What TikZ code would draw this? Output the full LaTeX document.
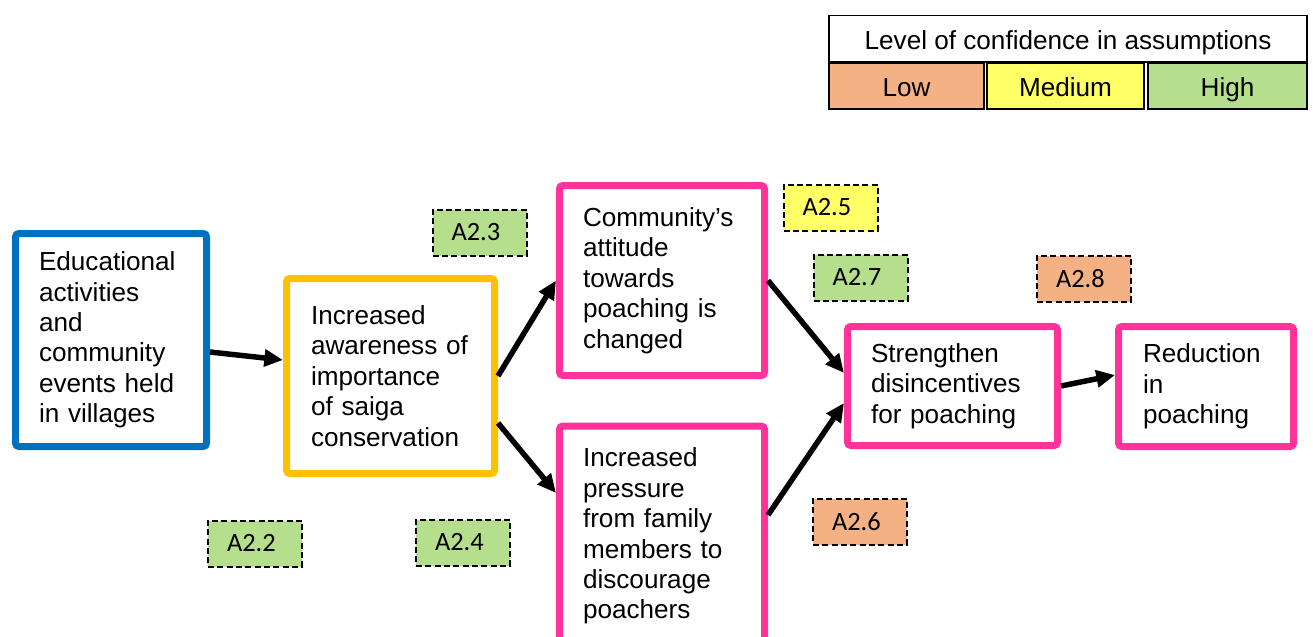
\documentclass[tikz,border=0pt]{standalone}
\usepackage{fontspec}
\setmainfont{Liberation Sans}
\newfontfamily\labelfont{Carlito}
\usetikzlibrary{arrows.meta}

\definecolor{cblue}{HTML}{0070C0}
\definecolor{corange}{HTML}{FFC000}
\definecolor{cpink}{HTML}{FF3399}
\definecolor{clow}{HTML}{F4B183}
\definecolor{cmed}{HTML}{FFFF66}
\definecolor{chigh}{HTML}{B5DE8D}

\tikzset{
  box/.style={draw, line width=5.25pt, rounded corners=2.5pt, fill=white,
    inner sep=0pt, align=left,
    font=\fontsize{19.6pt}{22.8pt}\selectfont},
  tag/.style={draw, line width=1.5pt, dash pattern=on 4.5pt off 2.5pt,
    minimum width=70.5pt, minimum height=34.5pt, inner xsep=14.25pt, inner ysep=0pt,
    text width=42pt, align=left, font=\labelfont\fontsize{19.8pt}{22pt}\selectfont},
  legcell/.style={draw, line width=1.2pt, minimum height=34.8pt, inner sep=0pt,
    text height=15.8pt, text depth=0pt,
    font=\fontsize{19.6pt}{22pt}\selectfont},
  link/.style={line width=4.1pt, -{Triangle[length=14pt,width=12.5pt]}}
}

\begin{document}
\begin{tikzpicture}[x=0.75pt,y=-0.75pt]
\useasboundingbox (0,0) rectangle (1313,636);

% legend
\node[legcell, minimum width=358.8pt] (legtitle) at (1068,38.5) {Level of confidence in assumptions};
\node[legcell, fill=clow, minimum width=116.6pt] (leglow) at (906.5,86) {Low};
\node[legcell, fill=cmed, minimum width=118.1pt] (legmed) at (1065.5,86) {Medium};
\node[legcell, fill=chigh, minimum width=119.6pt] (leghigh) at (1227.5,86) {High};

% boxes of the result chain
\node[box, draw=cblue, minimum width=143.25pt, minimum height=159.75pt, text width=108pt] (edu) at (111,340)
  {Educational\\activities\\and\\community\\events held\\in villages};
\node[box, draw=corange, minimum width=156pt, minimum height=146.25pt, text width=119.25pt] (aware) at (390.5,376)
  {Increased\\awareness of\\importance\\of saiga\\conservation};
\node[box, draw=cpink, minimum width=153.75pt, minimum height=142.5pt, text width=118.5pt] (attitude) at (662,280.5)
  {Community’s\\attitude\\towards\\poaching is\\changed};
\node[box, draw=cpink, minimum width=153.75pt, inner ysep=16.5pt, text width=118.5pt, anchor=north] (pressure) at (662,422.5)
  {Increased\\pressure\\from family\\members to\\discourage\\poachers};
\node[box, draw=cpink, minimum width=157.5pt, minimum height=89.25pt, text width=122.25pt] (strength) at (952.5,386)
  {Strengthen\\disincentives\\for poaching};
\node[box, draw=cpink, minimum width=131.25pt, minimum height=90pt, text width=94.5pt] (reduce) at (1206,386.5)
  {Reduction\\in\\poaching};

% assumption tags
\node[tag, fill=chigh] (a23) at (479.5,232.5) {A2.3};
\node[tag, fill=cmed]  (a25) at (830.5,207.5) {A2.5};
\node[tag, fill=chigh] (a27) at (860.5,277.5) {A2.7};
\node[tag, fill=clow]  (a28) at (1084,278.5) {A2.8};
\node[tag, fill=chigh] (a22) at (255,543.5) {A2.2};
\node[tag, fill=chigh] (a24) at (463,542.5) {A2.4};
\node[tag, fill=clow]  (a26) at (860,521.5) {A2.6};

% links
\draw[link] ([yshift=-9pt]edu.east) -- ([yshift=12pt]aware.west);
\draw[link] (aware.east) -- (attitude.west);
\draw[link] ([yshift=-35.25pt]aware.east) -- ([yshift=-52.9pt]pressure.north west);
\draw[link] (attitude.east) -- ([yshift=9.75pt]strength.west);
\draw[link] ([yshift=-69.4pt]pressure.north east) -- ([yshift=-12.75pt]strength.west);
\draw[link] (strength.east) -- ([yshift=8.6pt]reduce.west);
\end{tikzpicture}
\end{document}
